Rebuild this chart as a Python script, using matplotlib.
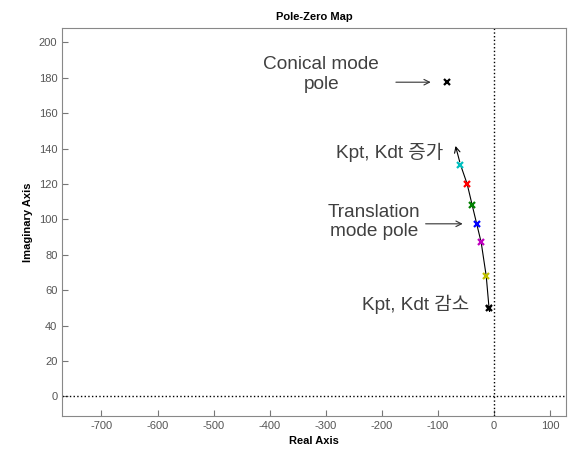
import matplotlib.pyplot as plt

plt.rcParams['font.family'] = ['Liberation Sans', 'Noto Sans CJK KR']
plt.rcParams['axes.unicode_minus'] = False

# 극점 데이터 (Kpt, Kdt 변화에 따른 이동)
pole_re = [-60, -48, -39, -31, -23, -14, -9]
pole_im = [131, 120, 108, 97.5, 87, 68, 50]
pole_colors = ['c', 'r', 'g', 'b', 'm', 'y', 'k']
conical_re = [-84]
conical_im = [177.5]
xticks = [-700, -600, -500, -400, -300, -200, -100, 0, 100]
yticks = [0, 20, 40, 60, 80, 100, 120, 140, 160, 180, 200]

fig = plt.figure(figsize=(5.71, 4.55), dpi=100)
ax = fig.add_axes([0.109, 0.086, 0.882, 0.852])

ax.axhline(0, color='k', ls=':', lw=1)
ax.axvline(0, color='k', ls=':', lw=1)

# 극점 궤적 선
ax.plot(pole_re, pole_im, color='k', lw=0.8)
ax.annotate('', xy=(-70, 143), xytext=(pole_re[0], pole_im[0]),
            arrowprops=dict(arrowstyle='->', color='k', lw=0.8))
ax.annotate('', xy=(-7, 46), xytext=(pole_re[-1], pole_im[-1]),
            arrowprops=dict(arrowstyle='->', color='k', lw=0.8))

for x, y, c in zip(pole_re, pole_im, pole_colors):
    ax.plot(x, y, marker='x', color=c, ms=5, mew=1.6)
ax.plot(conical_re, conical_im, marker='x', color='k', ms=4, mew=1.6)

tc = '#404040'
fs = 13.7
ax.text(-308, 182, 'Conical mode\npole', ha='center', va='center', fontsize=fs,
        color=tc, linespacing=1.2)
ax.annotate('', xy=(-108, 177.5), xytext=(-180, 177.5),
            arrowprops=dict(arrowstyle='->', color='#333333', lw=0.8))
ax.text(-187, 138, 'Kpt, Kdt 증가', ha='center', va='center', fontsize=fs, color=tc)
ax.text(-214, 98.5, 'Translation\nmode pole', ha='center', va='center', fontsize=fs,
        color=tc, linespacing=1.2)
ax.annotate('', xy=(-51, 97.5), xytext=(-127, 97.5),
            arrowprops=dict(arrowstyle='->', color='#333333', lw=0.8))
ax.text(-139, 52, 'Kpt, Kdt 감소', ha='center', va='center', fontsize=fs, color=tc)

ax.set_xlim(-770, 128)
ax.set_ylim(-11, 208)
ax.set_xticks(xticks)
ax.set_yticks(yticks)
ax.tick_params(direction='in', labelsize=8, labelcolor='#555555', color='#777777',
               length=4, top=False, right=False)
for s in ax.spines.values():
    s.set_color('#888888')

ax.set_xlabel('Real Axis', fontsize=8, fontweight='bold')
ax.set_ylabel('Imaginary Axis', fontsize=8, fontweight='bold')
ax.set_title('Pole-Zero Map', fontsize=8, fontweight='bold')

fig.savefig('out.png')
